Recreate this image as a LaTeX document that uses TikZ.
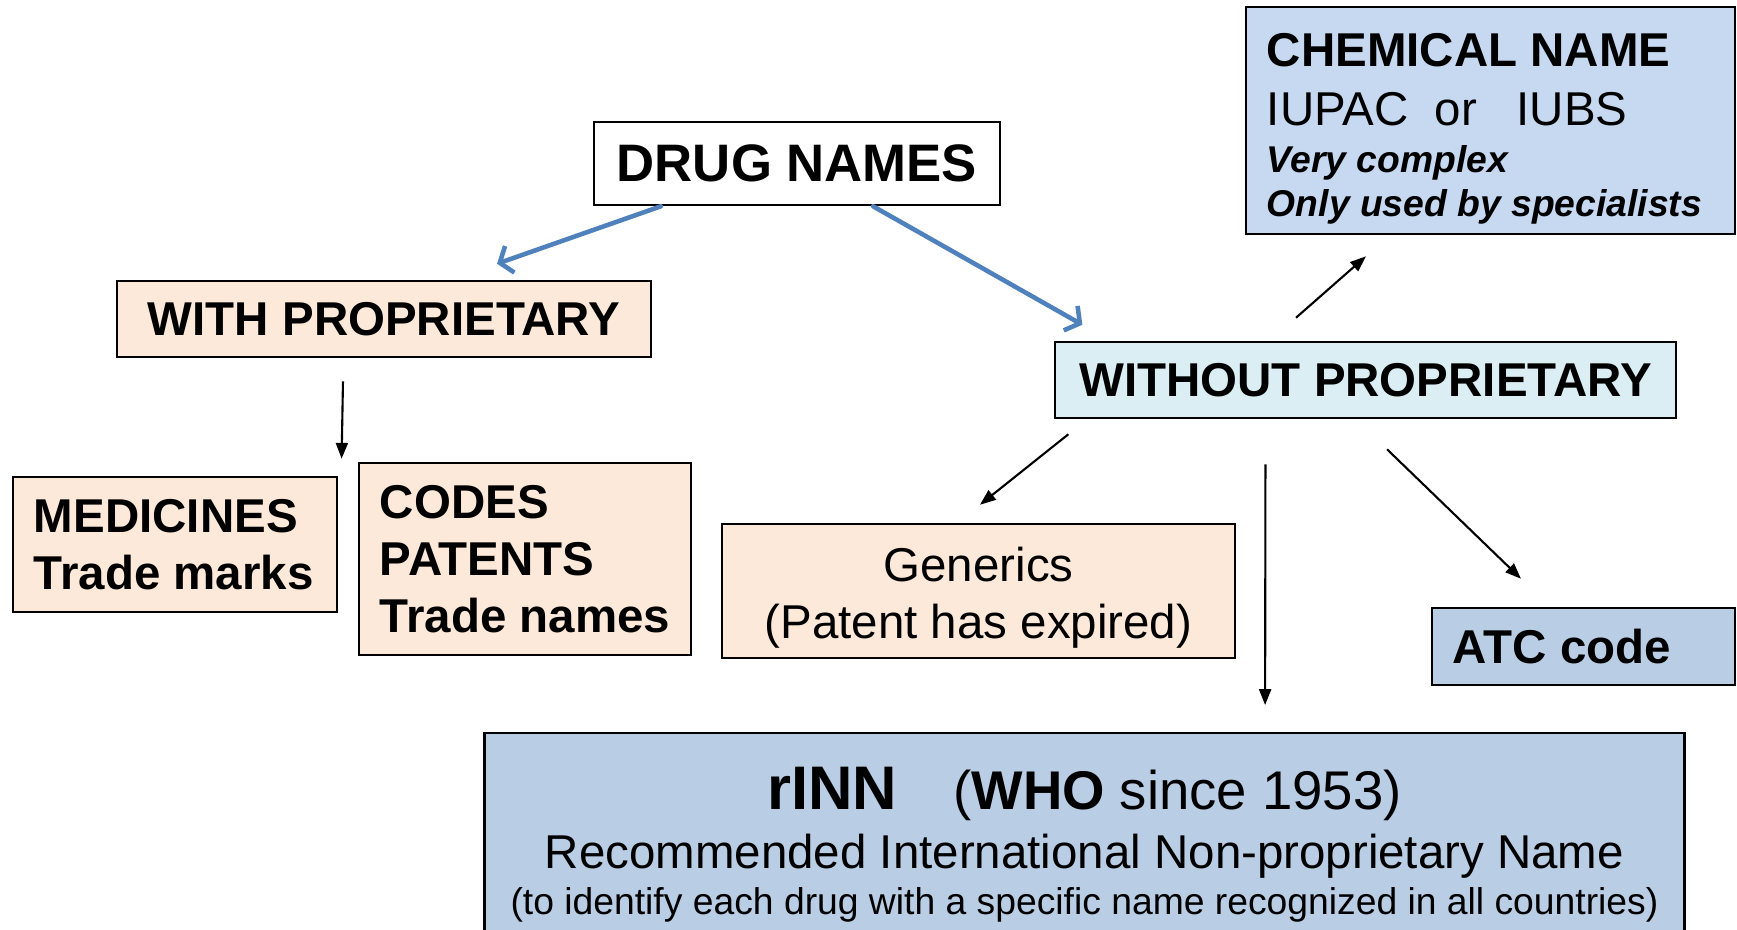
\documentclass[tikz,border=0pt]{standalone}
\usepackage{fontspec}
\setmainfont{Liberation Sans}
\usepackage{xcolor}
\usetikzlibrary{positioning, arrows.meta, shapes}
\definecolor{peach}{HTML}{FDE9D9}
\definecolor{paleteal}{HTML}{DBEEF4}
\definecolor{chemblue}{HTML}{C6D9F1}
\definecolor{innblue}{HTML}{B9CDE5}
\definecolor{arrowblue}{HTML}{4F81BD}
\newcommand{\bodyfont}{\fontsize{13.5}{16.2}\selectfont}
\newcommand{\notefont}{\fontsize{10.6}{12.6}\selectfont\bfseries\itshape}

\begin{document}
\begin{tikzpicture}
            [
            x=0.01cm, y=-0.01cm,
            box/.style={rectangle,draw,line width=0.7pt,inner xsep=0.21cm,inner ysep=0pt,font=\bodyfont},
            leftbox/.style={box,align=left},
            centbox/.style={box,align=center},
            edge/.style={-{Triangle[length=4.5pt,width=3.4pt]},line width=0.6pt},
            blueedge/.style={-{Straight Barb[length=3pt,width=8pt]},line width=1.3pt,draw=arrowblue,line cap=round}
            ]
        \useasboundingbox (0,0) rectangle (1737,929);
        % boxes
        \node[centbox,fill=white,minimum width=4.06cm,minimum height=0.83cm,font=\fontsize{15}{18}\selectfont\bfseries] (drug) at (797,163.5) {DRUG NAMES};
        \node[centbox,fill=peach,minimum width=5.34cm,minimum height=0.76cm,font=\bodyfont\bfseries] (with) at (384,319) {WITH PROPRIETARY};
        \node[leftbox,fill=peach,minimum width=3.24cm,minimum height=1.35cm,font=\bodyfont\bfseries] (medicines) at (175,544.5) {\makebox[2.82cm][l]{MEDICINES}\\Trade marks};
        \node[leftbox,fill=peach,minimum width=3.32cm,minimum height=1.92cm,font=\bodyfont\bfseries] (codes) at (525,559) {\makebox[2.90cm][l]{CODES}\\PATENTS\\Trade names};
        \node[centbox,fill=paleteal,minimum width=6.21cm,minimum height=0.76cm,font=\bodyfont\bfseries] (without) at (1365.5,380) {WITHOUT PROPRIETARY};
        \node[leftbox,fill=chemblue,minimum width=4.89cm,minimum height=2.27cm] (chemical) at (1490.5,120.5) {\rule{0pt}{13.9pt}\makebox[4.47cm][l]{\textbf{CHEMICAL NAME}}\\[0.6pt]IUPAC\ \ or\ \ \ IUBS\\[-2.8pt]{\notefont Very complex}\\[-3.7pt]{\notefont Only used by specialists}};
        \node[centbox,fill=peach,minimum width=5.13cm,minimum height=1.34cm] (generics) at (978.5,591) {\rule{0pt}{13.6pt}Generics\\(Patent has expired)};
        \node[leftbox,fill=innblue,minimum width=3.03cm,minimum height=0.77cm,font=\bodyfont\bfseries] (atc) at (1583.5,646.5) {\makebox[2.61cm][l]{ATC code}};
        \node[centbox,fill=innblue,anchor=north,minimum width=11.99cm,inner ysep=0.34cm] (rinn) at (1084.5,732)
            {{\fontsize{17.5}{20}\selectfont\bfseries rINN}\hspace{16pt}{\fontsize{15.5}{18}\selectfont(\textbf{WHO} since 1953)}\\[0.6pt]
            Recommended International Non-proprietary Name\\[-3.1pt]
            {\fontsize{10.6}{12.6}\selectfont(to identify each drug with a specific name recognized in all countries)}};
        % connectors
        \draw[blueedge] ([xshift=-1.36cm]drug.south) -- ([xshift=1.13cm,yshift=0.16cm]with.north);
        \draw[blueedge] ([xshift=0.76cm]drug.south) -- ([xshift=-2.83cm,yshift=0.16cm]without.north);
        \draw[edge] ([xshift=-0.41cm,yshift=-0.23cm]with.south) -- ([xshift=-0.16cm,yshift=0.03cm]codes.north west);
        \draw[edge] ([xshift=-0.695cm,yshift=0.23cm]without.north) -- ([xshift=-1.245cm,yshift=-0.21cm]chemical.south);
        \draw[edge] ([xshift=-2.97cm,yshift=-0.15cm]without.south) -- ([xshift=0.015cm,yshift=0.18cm]generics.north);
        \draw[edge] ([xshift=-1.0cm,yshift=-0.45cm]without.south) -- ([xshift=1.805cm,yshift=0.27cm]rinn.north);
        \draw[edge] ([xshift=0.215cm,yshift=-0.3cm]without.south) -- ([xshift=-0.625cm,yshift=0.28cm]atc.north);
        \end{tikzpicture}
\end{document}
